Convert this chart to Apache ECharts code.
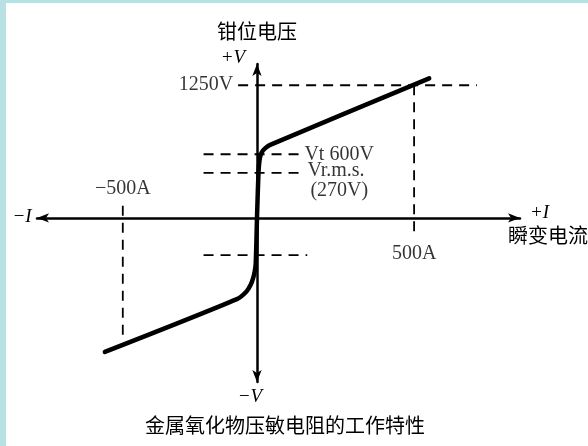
<!DOCTYPE html>
<html>
<head>
<meta charset="utf-8">
<script src="https://cdn.jsdelivr.net/npm/echarts@6/dist/echarts.min.js"></script>
<style>
	html, body { margin: 0; padding: 0; background: #fff; }
	#main { width: 588px; height: 446px; }
</style>
</head>
<body>
<div id="main"></div>
<script>
// 坐标范围 (A / V)
var xRange = [-700, 837];
var yRange = [-1545, 1450];

// 压敏电阻特性曲线 (正向 / 反向)
var posBranch = [[0, 0], [5, 440], [8, 540], [12, 595], [19, 635], [28, 662], [42, 688], [548, 1315]];
var negBranch = [[0, 0], [-4, -430], [-7, -500], [-12, -565], [-20, -630], [-34, -695], [-64, -765], [-484, -1262]];

// 虚线辅助线
var guide1250 = [[-60, 1250], [700, 1250]];
var guide500 = [[500, 1250], [500, -190]];
var guideNeg500 = [[-427, 115], [-427, -1135]];
var guideVt = [[-170, 600], [135, 600]];
var guideVrms = [[-170, 425], [135, 425]];
var guideNeg = [[-170, -350], [160, -350]];

// 标注文字
var noteNames = ['1250V', 'Vt 600V', 'Vr.m.s.', '(270V)', '\u2212500A', '500A'];
var noteAnchors = [[-60, 1250], [135, 600], [135, 425], [135, 425], [-427, 115], [500, -190]];

var chart = echarts.init(document.getElementById('main'));

var serif = 'Liberation Serif';
var cjk = '"Noto Sans CJK SC"';
var noteLabel = [
	{ position: 'left', distance: 5 },
	{ position: 'right', distance: 5 },
	{ position: 'right', distance: 8, offset: [0, -2] },
	{ position: 'right', distance: 11, offset: [0, 18] },
	{ position: 'top', distance: 7 },
	{ position: 'bottom', distance: 6 }
];
var notes = noteNames.map(function(name, i) {
	var lb = noteLabel[i];
	return {
		value: noteAnchors[i],
		label: {
			show: true,
			formatter: name,
			position: lb.position,
			distance: lb.distance,
			offset: lb.offset || [0, 0],
			color: '#000',
			fontFamily: serif,
			fontSize: 20
		}
	};
});

function dashed(data) {
	return {
		type: 'line',
		data: data,
		symbol: 'none',
		silent: true,
		lineStyle: {
			color: '#000',
			width: 1.8,
			type: [10, 7]
		}
	};
}

function branch(data) {
	return {
		type: 'line',
		data: data,
		symbol: 'none',
		smooth: 0.25,
		lineStyle: {
			color: '#000',
			width: 4.5,
			cap: 'round',
			join: 'round'
		},
		z: 5
	};
}

var option = {
	backgroundColor: '#fff',
	animation: false,
	grid: {
		left: 37,
		right: 68,
		top: 64,
		bottom: 64
	},
	xAxis: {
		type: 'value',
		min: xRange[0],
		max: xRange[1],
		axisLine: {
			onZero: true,
			symbol: ['arrow', 'arrow'],
			symbolSize: [7, 12],
			lineStyle: { color: '#000', width: 2.5 }
		},
		axisTick: { show: false },
		axisLabel: { show: false },
		splitLine: { show: false }
	},
	yAxis: {
		type: 'value',
		min: yRange[0],
		max: yRange[1],
		axisLine: {
			onZero: true,
			symbol: ['arrow', 'arrow'],
			symbolSize: [7, 12],
			lineStyle: { color: '#000', width: 2.5 }
		},
		axisTick: { show: false },
		axisLabel: { show: false },
		splitLine: { show: false }
	},
	series: [
		branch(posBranch),
		branch(negBranch),
		dashed(guide1250),
		dashed(guide500),
		dashed(guideNeg500),
		dashed(guideVt),
		dashed(guideVrms),
		dashed(guideNeg),
		{
			type: 'scatter',
			symbolSize: 0,
			silent: true,
			data: notes
		}
	],
	graphic: [
		// 左、上边框
		{ type: 'rect', shape: { x: 0, y: 0, width: 6, height: 446 }, style: { fill: '#b9e0e3' }, silent: true },
		{ type: 'rect', shape: { x: 0, y: 0, width: 588, height: 3 }, style: { fill: '#b9e0e3' }, silent: true },
		{ type: 'text', x: 257, y: 31, style: { text: '钳位电压', font: '20px ' + cjk, fill: '#000', textAlign: 'center', textVerticalAlign: 'middle' } },
		{ type: 'text', x: 233, y: 58, style: { text: '+V', font: 'italic 19px ' + serif, fill: '#000', textAlign: 'center', textVerticalAlign: 'middle' } },
		{ type: 'text', x: 250, y: 397, style: { text: '\u2212V', font: 'italic 19px ' + serif, fill: '#000', textAlign: 'center', textVerticalAlign: 'middle' } },
		{ type: 'text', x: 22, y: 217, style: { text: '\u2212I', font: 'italic 19px ' + serif, fill: '#000', textAlign: 'center', textVerticalAlign: 'middle' } },
		{ type: 'text', x: 530, y: 213, style: { text: '+I', font: 'italic 19px ' + serif, fill: '#000', textAlign: 'left', textVerticalAlign: 'middle' } },
		{ type: 'text', x: 508, y: 235, style: { text: '瞬变电流', font: '20px ' + cjk, fill: '#000', textAlign: 'left', textVerticalAlign: 'middle' } },
		{ type: 'text', x: 285, y: 425, style: { text: '金属氧化物压敏电阻的工作特性', font: '20px ' + cjk, fill: '#000', textAlign: 'center', textVerticalAlign: 'middle' } }
	]
};

chart.setOption(option);
</script>
</body>
</html>
